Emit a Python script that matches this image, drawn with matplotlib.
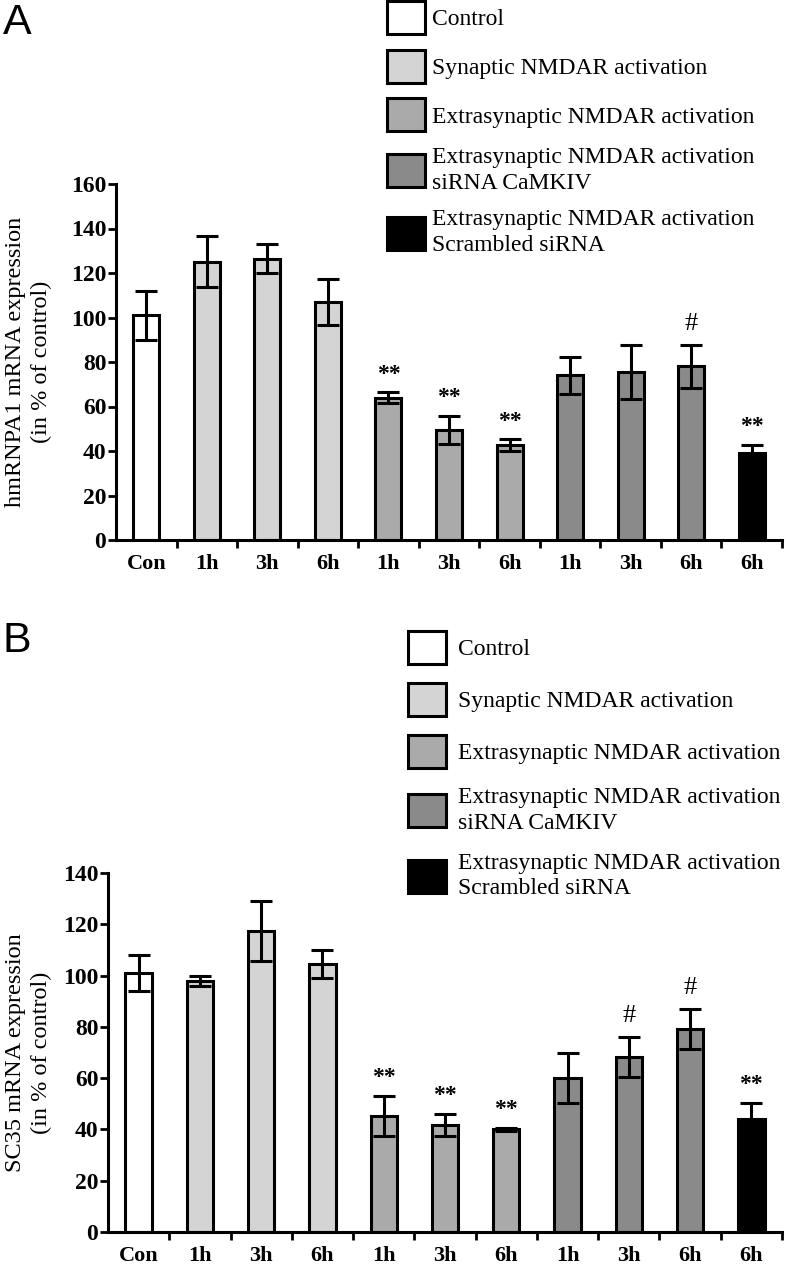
import matplotlib
matplotlib.use('Agg')
import matplotlib.pyplot as plt
import numpy as np

plt.rcParams['font.family'] = ['Liberation Serif', 'DejaVu Serif']

# categories along the x axis
tick_labels = ['Con', '1h', '3h', '6h', '1h', '3h', '6h', '1h', '3h', '6h', '6h']
group_of_bar = [0, 1, 1, 1, 2, 2, 2, 3, 3, 3, 4]
group_names = ['Control',
               'Synaptic NMDAR activation',
               'Extrasynaptic NMDAR activation',
               'Extrasynaptic NMDAR activation\nsiRNA CaMKIV',
               'Extrasynaptic NMDAR activation\nScrambled siRNA']
group_colors = ['#ffffff', '#d4d4d4', '#aaaaaa', '#8a8a8a', '#000000']

# panel A: hmRNPA1
a_mean = [101, 125, 126.5, 107, 64, 49.5, 42.5, 74, 75.5, 78, 39]
a_err = [11, 11.5, 6.5, 10.5, 2.3, 6.3, 2.7, 8.2, 12, 9.7, 3.7]
a_marks = ['', '', '', '', '**', '**', '**', '', '', '#', '**']

# panel B: SC35
b_mean = [101, 98, 117.5, 104.5, 45.3, 41.6, 40.1, 60.2, 68.3, 79.3, 44]
b_err = [7, 2, 11.7, 5.5, 7.8, 4.3, 0.6, 9.8, 7.8, 7.8, 6.5]
b_marks = ['', '', '', '', '**', '**', '**', '', '#', '#', '**']

W, H = 786, 1280
fig = plt.figure(figsize=(W / 100, H / 100), dpi=100)


def px_axes(x0, y_top, x1, y_bot):
    return fig.add_axes([x0 / W, 1 - y_bot / H, (x1 - x0) / W, (y_bot - y_top) / H])


def draw_panel(ax, mean, err, marks, ymax, ylabel, label_x):
    x = np.arange(len(mean)) + 0.5
    colors = [group_colors[g] for g in group_of_bar]
    bars = ax.bar(x, mean, width=0.43, color=colors, edgecolor='black', linewidth=2.2, zorder=2)
    ax.errorbar(x, mean, yerr=err, fmt='none', ecolor='black', elinewidth=2.2,
                capsize=8, capthick=2.2, zorder=3)
    for xi, m, e, t in zip(x, mean, err, marks):
        if t == '#':
            ax.text(xi, m + e + ymax * 0.028, t, ha='center', va='bottom', fontsize=19)
        elif t:
            ax.text(xi, m + e + ymax * 0.022, t, ha='center', va='bottom',
                    fontsize=17, fontweight='bold')
    ax.set_xlim(0, len(mean))
    ax.set_ylim(0, ymax)
    ax.set_yticks(np.arange(0, ymax + 1, 20))
    ax.set_xticks(x)
    ax.set_xticklabels(tick_labels, fontsize=16, fontweight='bold')
    ax.set_xticks(np.arange(1, len(mean) + 1), minor=True)
    ax.tick_params(axis='x', which='major', length=0, pad=10)
    ax.tick_params(axis='x', which='minor', length=6, width=2, direction='out')
    ax.tick_params(axis='y', length=6, width=2, labelsize=17, pad=1)
    for lab in ax.get_yticklabels():
        lab.set_fontweight('bold')
    ax.spines['top'].set_visible(False)
    ax.spines['right'].set_visible(False)
    ax.spines['left'].set_linewidth(2.2)
    ax.spines['bottom'].set_linewidth(2.2)
    ax.set_ylabel(ylabel, fontsize=17.5, linespacing=1.3)
    ax.yaxis.set_label_coords(label_x, 0.5)
    # first bar of each group gives the legend handle
    handles = [bars.patches[group_of_bar.index(g)] for g in range(len(group_names))]
    return handles


def add_legend(handles, x_px, y_px, spacing, textpad):
    leg = fig.legend(handles, group_names, loc='upper left',
                     bbox_to_anchor=(x_px / W, 1 - y_px / H),
                     frameon=False, fontsize=17, handlelength=1.6, handleheight=1.78,
                     handletextpad=textpad, labelspacing=spacing, borderpad=0,
                     borderaxespad=0)
    for t in leg.get_texts():
        t.set_linespacing(1.3)
    return leg


axA = px_axes(116, 184, 782, 540)
hA = draw_panel(axA, a_mean, a_err, a_marks, 160, 'hmRNPA1 mRNA expression\n(in % of control)',
                (52 - 116) / 666)
add_legend(hA, 387, 1, 0.66, 0.3)

axB = px_axes(108, 873, 782, 1232)
hB = draw_panel(axB, b_mean, b_err, b_marks, 140, 'SC35 mRNA expression\n(in % of control)',
                (52 - 108) / 674)
add_legend(hB, 408, 631, 0.8, 0.5)

fig.text(3 / W, 1 - 3 / H, 'A', fontsize=31, family='Liberation Sans', va='top', ha='left')
fig.text(3 / W, 1 - 621 / H, 'B', fontsize=31, family='Liberation Sans', va='top', ha='left')

fig.savefig('out.png', dpi=100)
plt.close(fig)
